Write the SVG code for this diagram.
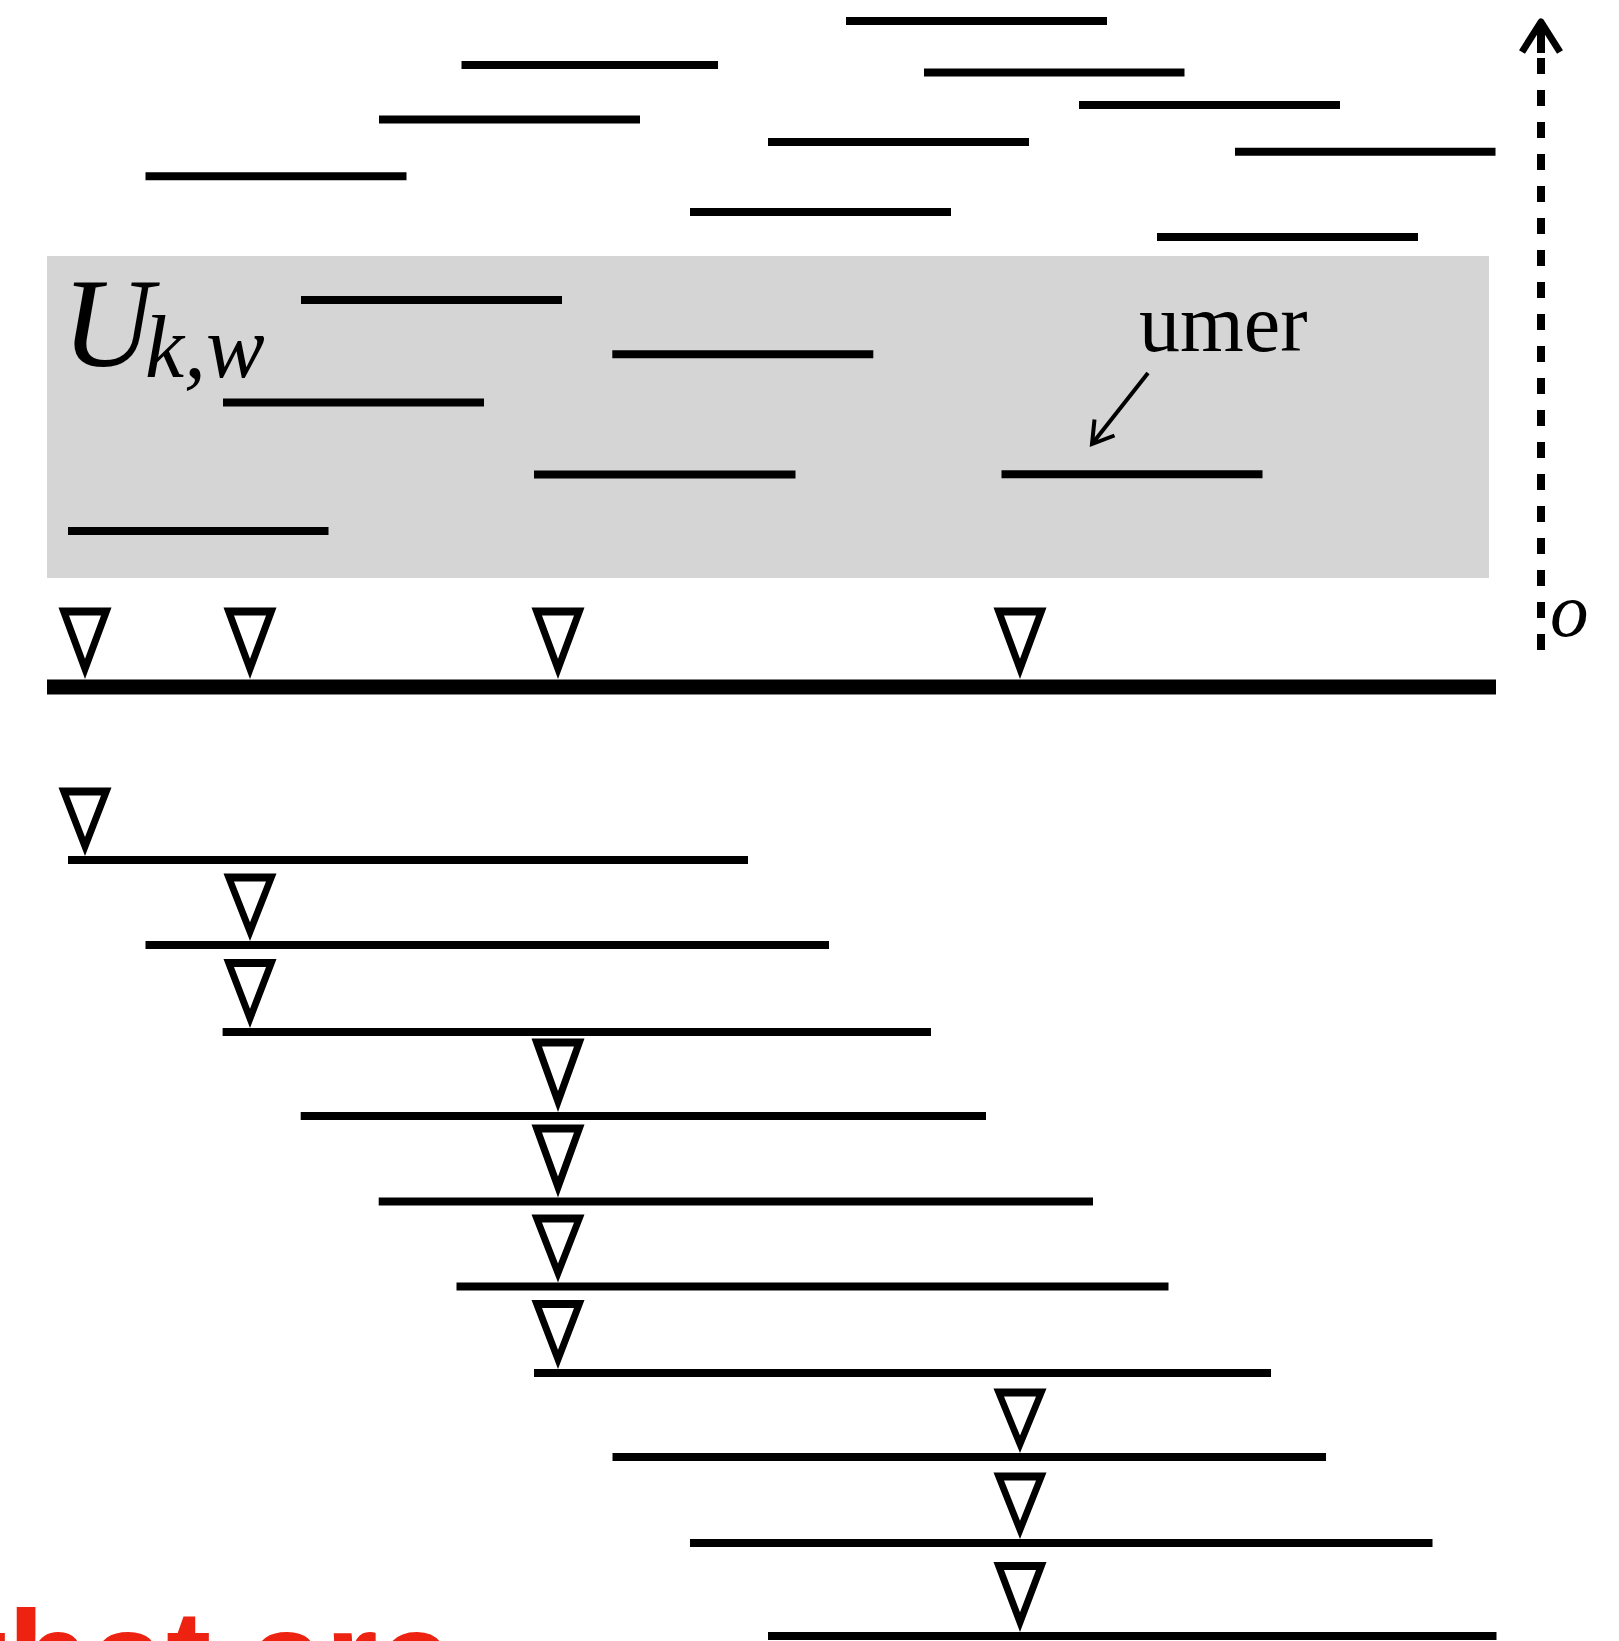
<svg xmlns="http://www.w3.org/2000/svg" width="1619" height="1641" viewBox="0 0 1619 1641">
  <style>
    .ln { stroke: #000; stroke-width: 8; fill: none; }
    .tri { fill: #000; fill-rule: evenodd; stroke: none; }
    .serif { font-family: "Liberation Serif", "Times New Roman", serif; fill: #000; }
    .it { font-style: italic; }
  </style>
  <rect width="1619" height="1641" fill="#fff"/>

  <g id="region">
    <rect x="47" y="256" width="1442" height="322" fill="#d5d5d5"/>
  </g>

  <g id="upper-intervals">
    <line class="ln" x1="846" y1="21" x2="1107" y2="21"/>
    <line class="ln" x1="461.5" y1="65" x2="718" y2="65"/>
    <line class="ln" x1="924" y1="72.5" x2="1184.5" y2="72.5"/>
    <line class="ln" x1="1079" y1="105" x2="1340" y2="105"/>
    <line class="ln" x1="379" y1="119.5" x2="640" y2="119.5"/>
    <line class="ln" x1="768" y1="142" x2="1029" y2="142"/>
    <line class="ln" x1="1235" y1="151.7" x2="1495.5" y2="151.7"/>
    <line class="ln" x1="145.5" y1="176.3" x2="406.5" y2="176.3"/>
    <line class="ln" x1="690" y1="212" x2="951" y2="212"/>
    <line class="ln" x1="1157" y1="237" x2="1418" y2="237"/>
  </g>

  <g id="region-intervals">
    <line class="ln" x1="301" y1="300" x2="562" y2="300"/>
    <line class="ln" x1="612.3" y1="354.2" x2="873.3" y2="354.2"/>
    <line class="ln" x1="223" y1="402.5" x2="484" y2="402.5"/>
    <line class="ln" x1="534" y1="474.5" x2="795.5" y2="474.5"/>
    <line class="ln" x1="68" y1="531" x2="328.5" y2="531"/>
    <line class="ln" x1="1001.5" y1="474.3" x2="1262.5" y2="474.3"/>
  </g>

  <g id="labels">
    <text class="serif it" x="62" y="366" font-size="126">U</text>
    <text class="serif it" x="145" y="377" font-size="88">k,w</text>
    <text class="serif" x="1139" y="351" font-size="82">umer</text>
    <text class="serif it" x="1550" y="636" font-size="77">o</text>
  </g>

  <g id="baseline">
    <line x1="47" y1="687" x2="1496" y2="687" stroke="#000" stroke-width="15"/>
  </g>

  <g id="markers-top">
    <path class="tri" d="M58.5,607.5 H111.5 L85,679 Z M69,615.5 H101 L85,658.7 Z"/>
    <path class="tri" d="M223.5,607.5 H276.5 L250,679 Z M234,615.5 H266 L250,658.7 Z"/>
    <path class="tri" d="M531.5,607.5 H584.5 L558,679 Z M542,615.5 H574 L558,658.7 Z"/>
    <path class="tri" d="M993.5,607.5 H1046.5 L1020,679 Z M1004,615.5 H1036 L1020,658.7 Z"/>
  </g>

  <g id="lower-intervals">
    <line class="ln" x1="68" y1="860" x2="748" y2="860"/>
    <line class="ln" x1="145.5" y1="945" x2="829" y2="945"/>
    <line class="ln" x1="222.6" y1="1032" x2="931" y2="1032"/>
    <line class="ln" x1="300.7" y1="1116" x2="986" y2="1116"/>
    <line class="ln" x1="378.7" y1="1201.5" x2="1093" y2="1201.5"/>
    <line class="ln" x1="456.5" y1="1286.5" x2="1168.5" y2="1286.5"/>
    <line class="ln" x1="534" y1="1373" x2="1271" y2="1373"/>
    <line class="ln" x1="612.5" y1="1457" x2="1326" y2="1457"/>
    <line class="ln" x1="690" y1="1543" x2="1432.5" y2="1543"/>
    <line class="ln" x1="768" y1="1636" x2="1496.5" y2="1636"/>
  </g>

  <g id="markers-lower">
    <path class="tri" d="M58.5,787.5 H111.5 L85,856 Z M69,795.5 H101 L85,836.9 Z"/>
    <path class="tri" d="M223.5,873.5 H276.5 L250,941 Z M234,881.5 H266 L250,922.3 Z"/>
    <path class="tri" d="M223.5,959 H276.5 L250,1028 Z M234,967 H266 L250,1008.7 Z"/>
    <path class="tri" d="M531.5,1038.5 H584.5 L558,1112 Z M542,1046.5 H574 L558,1090.9 Z"/>
    <path class="tri" d="M531.5,1124.5 H584.5 L558,1197.5 Z M542,1132.5 H574 L558,1176.6 Z"/>
    <path class="tri" d="M531.5,1214.5 H584.5 L558,1282.5 Z M542,1222.5 H574 L558,1263.6 Z"/>
    <path class="tri" d="M531.5,1300 H584.5 L558,1369 Z M542,1308 H574 L558,1349.7 Z"/>
    <path class="tri" d="M993.5,1388.5 H1046.5 L1020,1453 Z M1004,1396.5 H1036 L1020,1435.5 Z"/>
    <path class="tri" d="M993.5,1472.5 H1046.5 L1020,1539 Z M1004,1480.5 H1036 L1020,1520.7 Z"/>
    <path class="tri" d="M993.5,1562 H1046.5 L1020,1632 Z M1004,1570 H1036 L1020,1612.3 Z"/>
  </g>

  <g id="connectors">
    <line x1="1148" y1="373" x2="1092" y2="444" stroke="#000" stroke-width="4"/>
    <polyline points="1094.5,419.5 1092,444 1114.5,435.5" fill="none" stroke="#000" stroke-width="4" stroke-linejoin="miter"/>
    <line x1="1541" y1="650" x2="1541" y2="58" stroke="#000" stroke-width="8" stroke-dasharray="16 16"/>
    <path d="M1541,22 V53" stroke="#000" stroke-width="8" fill="none"/>
    <polyline points="1522,52 1541,22 1560,52" fill="none" stroke="#000" stroke-width="7" stroke-linejoin="round"/>
  </g>

  <g id="caption">
    <text x="-38" y="1705" font-family="'Liberation Sans', Arial, sans-serif" font-weight="bold" font-size="136" fill="#ee2211">that are</text>
  </g>
</svg>
